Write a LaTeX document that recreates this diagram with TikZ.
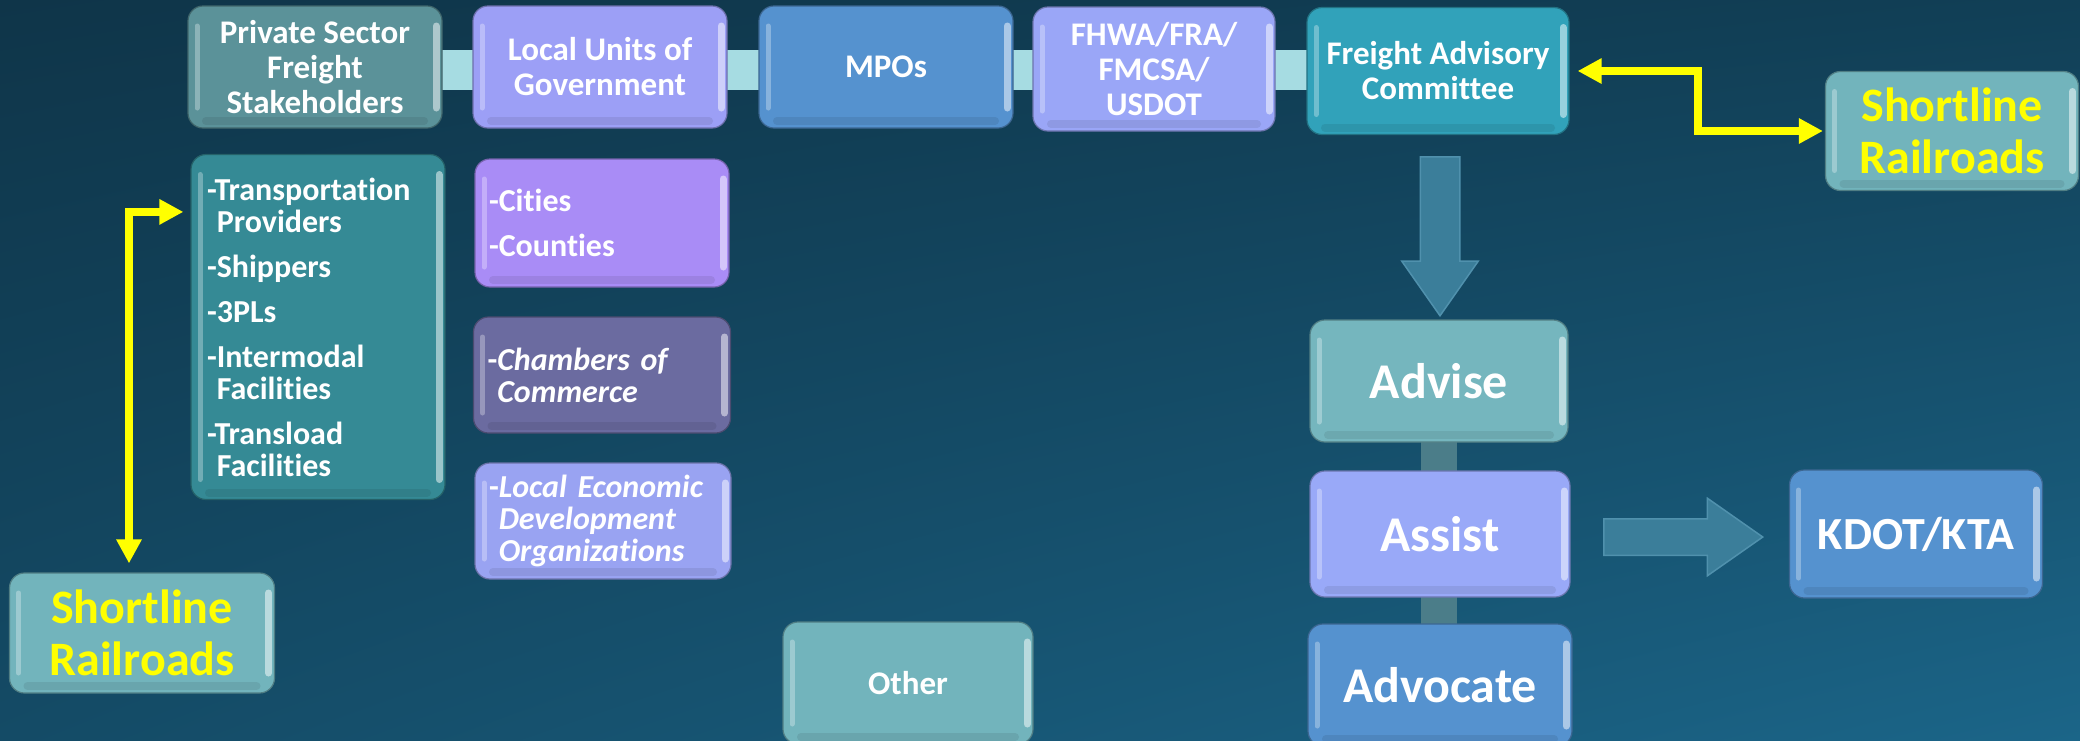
\documentclass[tikz,border=0pt]{standalone}
\usepackage{fontspec}
\setmainfont{Carlito}[Ligatures=NoCommon]
\usetikzlibrary{arrows.meta,shapes.arrows,shadings}
\pgfdeclarelayer{canvas}
\pgfdeclarelayer{links}
\pgfsetlayers{canvas,links,main}

\definecolor{bgTL}{HTML}{0F3549}
\definecolor{bgTR}{HTML}{113F56}
\definecolor{bgBL}{HTML}{144B66}
\definecolor{bgBR}{HTML}{1B6588}
\definecolor{privC}{HTML}{5B9299}
\definecolor{localC}{HTML}{9C9FF6}
\definecolor{mpoC}{HTML}{5592CF}
\definecolor{fhwaC}{HTML}{9AA6F7}
\definecolor{facC}{HTML}{31A2BA}
\definecolor{railC}{HTML}{72B4BC}
\definecolor{transC}{HTML}{358A95}
\definecolor{citiesC}{HTML}{A98CF6}
\definecolor{chamberC}{HTML}{6B6BA0}
\definecolor{ledoC}{HTML}{99A3F2}
\definecolor{adviseC}{HTML}{75B6BE}
\definecolor{assistC}{HTML}{99A9F8}
\definecolor{barC}{HTML}{A6DCE2}
\definecolor{stemC}{HTML}{4B7D89}
\definecolor{arrowC}{HTML}{3B7E9A}
\definecolor{arrowE}{HTML}{5091AD}
\definecolor{linkC}{HTML}{FFFF00}

\newcommand\fRow{\fontsize{33}{35}\selectfont\bfseries}
\newcommand\fItem{\fontsize{32}{32}\selectfont\bfseries}
\newcommand\fRail{\fontsize{48}{52}\selectfont\bfseries}
\newcommand\fVerb{\fontsize{50}{54}\selectfont\bfseries}
\newcommand\fKdot{\fontsize{46}{48}\selectfont\bfseries}

\tikzset{
  box/.style={rounded corners=15pt, fill=#1, draw=black!30!#1, line width=1.2pt,
    text=white, align=center, inner sep=0pt, minimum width=254pt, minimum height=122pt,
    path picture={
      \draw[line width=5pt, line cap=round, white!30!#1]
        ([xshift=9pt,yshift=-20pt]path picture bounding box.north west) --
        ([xshift=9pt,yshift=20pt]path picture bounding box.south west);
      \draw[line width=7pt, line cap=round, white!50!#1]
        ([xshift=-6pt,yshift=-20pt]path picture bounding box.north east) --
        ([xshift=-6pt,yshift=20pt]path picture bounding box.south east);
      \draw[line width=8pt, line cap=round, black!8!#1]
        ([xshift=18pt,yshift=7pt]path picture bounding box.south west) --
        ([xshift=-18pt,yshift=7pt]path picture bounding box.south east);
    }},
  listbox/.style={box=#1, align=left, inner xsep=14pt, font=\fItem},
  rail/.style={box=railC, text=linkC, font=\fRail},
  link/.style={draw=linkC, line width=8pt,
    {Triangle[width=24pt,length=24pt]}-{Triangle[width=24pt,length=24pt]}},
  blockarrow/.style={single arrow, fill=arrowC, draw=arrowE, line width=1.5pt,
    minimum height=159pt, single arrow tip angle=70, anchor=tail},
}

\begin{document}
\begin{tikzpicture}[x=1pt,y=-1pt]
  \useasboundingbox (0,0) rectangle (2080,740);
  \begin{pgfonlayer}{canvas}
    \shade[upper left=bgTL, upper right=bgTR, lower left=bgBL, lower right=bgBR] (0,0) rectangle (2080,740);
  \end{pgfonlayer}

  % top row
  \node[box=privC, font=\fRow] (priv) at (315,67) {Private Sector\\Freight\\Stakeholders};
  \node[box=localC, font=\fRow] (local) at (600,67) {Local Units of\\Government};
  \node[box=mpoC, font=\fRow] (mpo) at (886,67) {MPOs};
  \node[box=fhwaC, font=\fRow, minimum width=242pt, minimum height=124pt] (fhwa) at (1154,69) {FHWA/FRA/\\FMCSA/\\USDOT};
  \node[box=facC, font=\fRow, minimum width=262pt, minimum height=127pt] (fac) at (1438,71) {Freight Advisory\\Committee};
  \node[rail, minimum width=253pt, minimum height=119pt] (railR) at (1952,131) {Shortline\\Railroads};

  % member lists
  \node[listbox=transC, text width=222pt, minimum height=345pt] (trans) at (318,327)
    {-Transportation\\\hphantom{-}Providers\\[13pt]-Shippers\\[13pt]-3PLs\\[13pt]-Intermodal\\\hphantom{-}Facilities\\[13pt]-Transload\\\hphantom{-}Facilities};
  \node[listbox=citiesC, text width=226pt, minimum height=128pt] (cities) at (602,223) {-Cities\\[13pt]-Counties};
  \node[listbox=chamberC, text width=229pt, minimum height=116pt] (chamber) at (602,375)
    {-\textit{Chambers of}\\\hphantom{-}\textit{Commerce}};
  \node[listbox=ledoC, text width=228pt, minimum height=116pt] (ledo) at (603,521)
    {-\textit{Local Economic}\\\hphantom{-}\textit{Development}\\\hphantom{-}\textit{Organizations}};
  \node[rail, minimum width=265pt, minimum height=120pt] (railL) at (142,633) {Shortline\\Railroads};
  \node[box=railC, font=\fRow, minimum width=250pt] (other) at (908,683) {Other};

  % roles
  \node[box=adviseC, font=\fVerb, minimum width=258pt] (advise) at (1439,381) {Advise};
  \node[box=assistC, font=\fVerb, minimum width=260pt, minimum height=126pt] (assist) at (1440,534) {Assist};
  \node[box=mpoC, font=\fVerb, minimum width=264pt] (advocate) at (1440,685) {Advocate};
  \node[box=mpoC, font=\fKdot, minimum width=253pt, minimum height=128pt] (kdot) at (1916,534) {KDOT/KTA};

  \node[blockarrow, shape border rotate=270, inner sep=19pt, single arrow head extend=18.5pt] (down) at (1440,156) {};
  \node[blockarrow, inner sep=17.5pt, single arrow head extend=20.5pt] (ahead) at (1603,537) {};

  \begin{pgfonlayer}{links}
    \draw[barC, line width=40pt] ([yshift=-3pt]priv.center) -- ([yshift=-3pt]priv.center -| fac.center);
    \draw[stemC, line width=36pt] (advise.center) -- (advise.center |- advocate.center);
  \end{pgfonlayer}

  \draw[link] ([xshift=8pt]fac.east) -- ++(120,0) |- ([xshift=-2pt]railR.west);
  \draw[link] ([xshift=-7pt,yshift=-58pt]trans.north west) -| ([xshift=-13pt,yshift=9pt]railL.north);
\end{tikzpicture}
\end{document}
